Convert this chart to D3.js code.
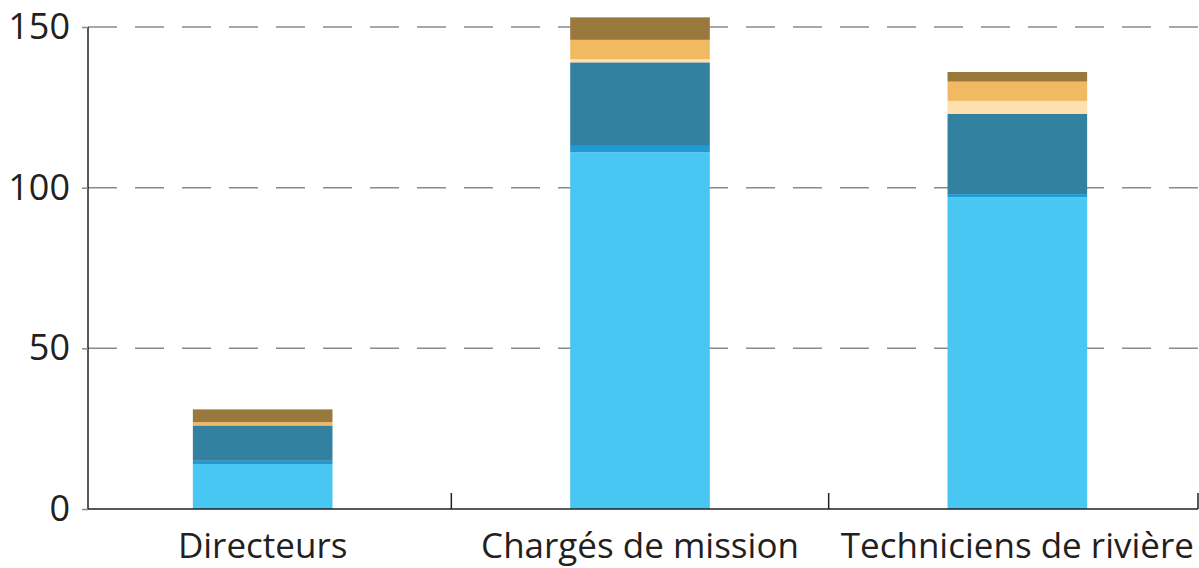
<!DOCTYPE html>
<html>
<head>
<meta charset="utf-8">
<script src="https://cdn.jsdelivr.net/npm/d3@7"></script>
<style>
  body { margin: 0; background: #fff; }
  text { font-family: "Open Sans", "Noto Sans", sans-serif; fill: #231f20; }
</style>
</head>
<body>
<script>
//categories and stacked series (bottom to top)
var categories = ["Directeurs", "Chargés de mission", "Techniciens de rivière"];
var seriesKeys = ["s1", "s2", "s3", "s4", "s5", "s6"];
var s1 = [14, 111, 97];
var s2 = [1, 2, 1];
var s3 = [11, 26, 25];
var s4 = [0, 1, 4];
var s5 = [1, 6, 6];
var s6 = [4, 7, 3];
var yTicks = [0, 50, 100, 150];

var colors = ["#48c7f2", "#1e9ad6", "#3381a0", "#fde0ad", "#f0b962", "#98783b"];

window.onload = draw();

function draw(){
    var width = 1199,
        height = 568;

    var svg = d3.select("body")
        .append("svg")
        .attr("width", width)
        .attr("height", height);

    var left = 88, right = 1198, top = 27, bottom = 509;

    //table for the stack
    var rows = categories.map(function(c, i){
        return {cat: c, s1: s1[i], s2: s2[i], s3: s3[i], s4: s4[i], s5: s5[i], s6: s6[i]};
    });
    var stacked = d3.stack().keys(seriesKeys)(rows);

    var x = d3.scaleBand()
        .domain(categories)
        .range([74, 1206])
        .paddingInner(0.63)
        .paddingOuter(0.315);

    var y = d3.scaleLinear()
        .domain([0, 150])
        .range([bottom, top]);

    //gridlines
    svg.selectAll(".grid")
        .data(yTicks.filter(function(d){ return d > 0; }))
        .enter()
        .append("line")
        .attr("class", "grid")
        .attr("x1", left)
        .attr("x2", right)
        .attr("y1", function(d){ return y(d); })
        .attr("y2", function(d){ return y(d); })
        .attr("stroke", "#8a8a8a")
        .attr("stroke-width", 1.5)
        .attr("stroke-dasharray", "29,18");

    //bars
    svg.selectAll(".layer")
        .data(stacked)
        .enter()
        .append("g")
        .attr("fill", function(d, i){ return colors[i]; })
        .selectAll("rect")
        .data(function(d){ return d; })
        .enter()
        .append("rect")
        .attr("x", function(d){ return x(d.data.cat); })
        .attr("width", x.bandwidth())
        .attr("y", function(d){ return y(d[1]); })
        .attr("height", function(d){ return y(d[0]) - y(d[1]); });

    //y axis
    var yAxis = svg.append("g")
        .attr("transform", "translate(" + left + ",0)")
        .call(d3.axisLeft(y).tickValues(yTicks).tickSize(6).tickPadding(12));
    yAxis.select(".domain").attr("stroke", "#231f20").attr("stroke-width", 1.5).attr("d", "M0," + top + "V" + bottom);
    yAxis.selectAll(".tick line").attr("stroke", "#888").attr("stroke-width", 1.5);
    yAxis.selectAll("text").style("font-size", "36px").attr("fill", "#231f20");

    //x axis baseline and category separators
    svg.append("line")
        .attr("x1", left).attr("x2", right)
        .attr("y1", bottom).attr("y2", bottom)
        .attr("stroke", "#231f20").attr("stroke-width", 1.5);

    var seps = categories.map(function(c){ return x(c) + x.bandwidth() + x.step() * x.paddingInner() / 2; });
    svg.selectAll(".sep")
        .data(seps)
        .enter()
        .append("line")
        .attr("x1", function(d){ return Math.min(d, right); })
        .attr("x2", function(d){ return Math.min(d, right); })
        .attr("y1", bottom - 16)
        .attr("y2", bottom)
        .attr("stroke", "#231f20").attr("stroke-width", 1.5);

    svg.selectAll(".cat")
        .data(categories)
        .enter()
        .append("text")
        .attr("x", function(d){ return x(d) + x.bandwidth() / 2; })
        .attr("y", 558)
        .attr("text-anchor", "middle")
        .style("font-size", "35px")
        .text(function(d){ return d; });
}
</script>
</body>
</html>
